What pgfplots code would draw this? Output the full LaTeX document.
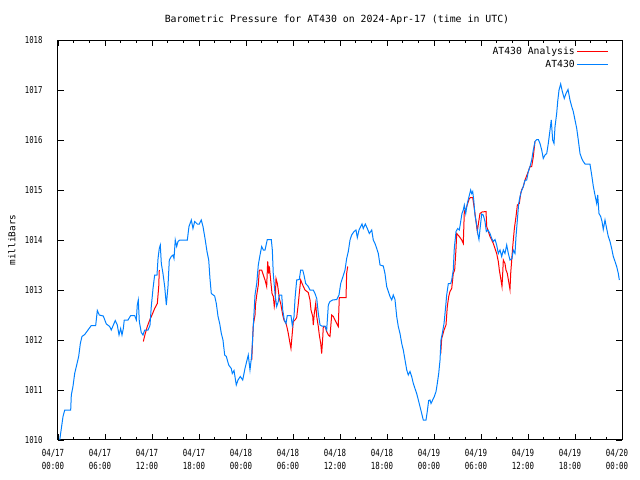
\documentclass[border=0pt]{standalone}
\usepackage{pgfplots}
\pgfplotsset{compat=1.18}
\usepackage{fontspec}
\setmainfont{DejaVu Sans Mono}
\newfontfamily\tickfont{DejaVu Sans Mono}[FakeStretch=0.76]
\definecolor{obsblue}{RGB}{0,128,255}
\definecolor{anared}{RGB}{255,0,0}
\begin{document}
\begin{tikzpicture}
\path[use as bounding box] (-58bp,-40bp) rectangle (582bp,440bp);
\begin{axis}[
  scale only axis,
  width=564bp, height=400bp,
  xmin=0, xmax=72, ymin=1010, ymax=1018,
  xtick={0,6,...,72},
  xticklabels={{04/17\\00:00},{04/17\\06:00},{04/17\\12:00},{04/17\\18:00},{04/18\\00:00},{04/18\\06:00},{04/18\\12:00},{04/18\\18:00},{04/19\\00:00},{04/19\\06:00},{04/19\\12:00},{04/19\\18:00},{04/20\\00:00}},
  minor x tick num=2,
  ytick={1010,1011,...,1018},
  yticklabels={1010,1011,1012,1013,1014,1015,1016,1017,1018},
  tick align=inside,
  major tick length=6bp, minor tick length=3bp,
  axis line style={line width=1bp},
  every tick/.style={black, line width=0.8bp},
  x tick label style={align=center, font=\tickfont\fontsize{9.8}{12.3}\selectfont, yshift=-6bp, xshift=-5bp},
  y tick label style={font=\tickfont\fontsize{9.6}{11}\selectfont, xshift=-12bp},
  title={Barometric Pressure for AT430 on 2024-Apr-17 (time in UTC)},
  title style={at={(axis description cs:0.5,1)}, anchor=center, yshift=14bp, xshift=-3bp, font=\fontsize{9.9}{11}\selectfont},
  ylabel={milliBars},
  ylabel style={at={(axis description cs:-0.0816,0.5)}, anchor=center, font=\fontsize{9.4}{11}\selectfont},
  legend style={draw=none, fill=none, at={(axis description cs:0.9823,0.993)}, anchor=north east, font=\fontsize{9.8}{11}\selectfont, row sep=0.5bp},
  legend cell align=right,
  legend plot pos=right,
  legend image code/.code={\draw[#1] (0bp,0bp) -- (31bp,0bp);},
  unbounded coords=jump,
]
\addplot[anared, line width=1bp] table {
x y
10.89 1011.97
11.14 1012.13
11.40 1012.27
11.71 1012.40
12.00 1012.50
12.34 1012.63
12.68 1012.73
12.86 1013.07
12.93 1013.40
18.00 nan
24.73 1011.60
24.93 1012.30
25.15 1012.50
25.21 1012.70
25.37 1012.90
25.57 1013.10
25.70 1013.40
26.00 1013.40
26.21 1013.30
26.43 1013.20
26.64 1013.07
26.77 1013.57
26.90 1013.33
26.98 1013.47
27.15 1013.20
27.32 1012.93
27.49 1012.87
27.61 1012.67
27.74 1012.80
27.83 1013.23
28.00 1013.13
28.12 1013.00
28.25 1012.83
28.43 1012.73
28.69 1012.50
28.85 1012.40
29.11 1012.33
29.27 1012.23
29.40 1012.13
29.62 1011.93
29.74 1011.83
29.87 1012.07
30.04 1012.37
30.26 1012.40
30.47 1012.45
30.68 1012.73
30.80 1012.93
30.98 1013.20
31.24 1013.10
31.53 1013.00
31.95 1012.95
32.17 1012.80
32.30 1012.60
32.52 1012.47
32.59 1012.30
32.72 1012.53
32.90 1012.73
33.03 1012.47
33.23 1012.27
33.36 1012.10
33.54 1011.93
33.66 1011.73
33.79 1012.03
33.87 1012.27
34.09 1012.27
34.30 1012.17
34.51 1012.10
34.72 1012.07
34.94 1012.50
35.15 1012.47
35.36 1012.40
35.58 1012.33
35.78 1012.27
35.91 1012.85
36.77 1012.85
36.85 1013.33
36.98 1013.47
42.00 nan
48.86 1011.73
48.98 1012.03
49.11 1012.10
49.28 1012.20
49.53 1012.30
49.70 1012.67
49.88 1012.87
50.04 1012.97
50.26 1013.03
50.46 1013.33
50.64 1013.40
50.81 1013.83
50.90 1014.13
51.23 1014.07
51.54 1014.00
51.74 1013.93
51.87 1014.57
52.09 1014.63
52.30 1014.73
52.51 1014.83
52.68 1014.85
52.94 1014.85
53.11 1014.67
53.23 1014.53
53.53 1014.17
53.71 1014.37
53.87 1014.53
54.13 1014.56
54.64 1014.57
54.73 1014.27
54.93 1014.17
55.15 1014.07
55.37 1014.00
55.57 1013.93
55.79 1013.83
56.00 1013.73
56.21 1013.57
56.34 1013.40
56.52 1013.23
56.68 1013.07
56.77 1013.33
56.85 1013.60
57.06 1013.53
57.19 1013.40
57.36 1013.33
57.53 1013.17
57.70 1013.01
57.79 1013.33
57.92 1013.60
58.05 1013.87
58.26 1014.23
58.47 1014.47
58.64 1014.70
58.89 1014.73
59.07 1014.93
59.19 1015.00
59.40 1015.07
59.62 1015.20
60.04 1015.37
60.26 1015.47
60.47 1015.47
60.68 1015.67
60.89 1015.97
};
\addlegendentry{AT430 Analysis}
\addplot[obsblue, line width=1bp] table {
x y
0.22 1010.00
0.64 1010.47
0.86 1010.60
1.62 1010.60
1.70 1010.90
1.91 1011.07
2.13 1011.33
2.34 1011.47
2.64 1011.67
2.85 1011.93
3.06 1012.07
3.41 1012.11
3.83 1012.20
4.25 1012.29
4.81 1012.29
5.02 1012.59
5.27 1012.50
5.78 1012.48
6.17 1012.32
6.60 1012.27
6.80 1012.20
7.31 1012.39
7.57 1012.30
7.79 1012.10
8.00 1012.23
8.17 1012.10
8.34 1012.23
8.46 1012.40
8.94 1012.40
9.28 1012.49
9.79 1012.49
10.00 1012.40
10.12 1012.70
10.25 1012.80
10.38 1012.37
10.63 1012.15
10.85 1012.10
11.07 1012.20
11.49 1012.20
11.74 1012.29
11.91 1012.67
12.13 1013.03
12.34 1013.30
12.64 1013.30
12.77 1013.63
12.93 1013.83
13.06 1013.90
13.19 1013.53
13.40 1013.33
13.62 1013.07
13.83 1012.70
14.04 1013.07
14.21 1013.60
14.46 1013.67
14.68 1013.70
14.81 1013.63
14.97 1014.00
15.15 1013.87
15.32 1013.97
15.54 1014.00
16.51 1014.00
16.72 1014.27
17.02 1014.40
17.23 1014.23
17.45 1014.37
17.78 1014.32
18.04 1014.32
18.29 1014.40
18.51 1014.27
18.80 1014.00
19.02 1013.77
19.24 1013.60
19.40 1013.23
19.57 1012.93
20.00 1012.88
20.21 1012.73
20.43 1012.47
20.64 1012.33
20.85 1012.13
21.06 1012.00
21.28 1011.70
21.49 1011.67
21.79 1011.50
22.12 1011.43
22.25 1011.33
22.47 1011.39
22.76 1011.10
22.98 1011.20
23.27 1011.27
23.58 1011.20
23.87 1011.43
24.29 1011.70
24.51 1011.40
24.73 1011.70
24.93 1012.27
25.15 1012.90
25.37 1013.13
25.57 1013.50
25.79 1013.70
26.00 1013.87
26.21 1013.80
26.43 1013.80
26.72 1014.01
27.23 1014.01
27.36 1013.80
27.48 1013.33
27.70 1012.93
27.92 1012.67
28.12 1012.77
28.25 1012.90
28.56 1012.90
28.69 1012.60
28.89 1012.40
29.11 1012.33
29.27 1012.49
29.74 1012.49
29.91 1012.29
30.13 1012.47
30.26 1012.83
30.47 1013.20
30.80 1013.21
30.98 1013.40
31.24 1013.40
31.40 1013.30
31.62 1013.13
31.95 1013.07
32.17 1013.00
32.59 1013.00
32.81 1012.93
33.03 1012.83
33.23 1012.53
33.45 1012.30
33.66 1012.28
34.09 1012.28
34.30 1012.20
34.51 1012.70
34.72 1012.77
35.07 1012.80
35.58 1012.81
35.87 1012.90
36.09 1013.13
36.34 1013.25
36.64 1013.40
36.85 1013.63
37.06 1013.77
37.28 1014.00
37.49 1014.10
37.79 1014.17
38.04 1014.20
38.21 1014.05
38.43 1014.20
38.64 1014.27
38.81 1014.32
38.97 1014.23
39.23 1014.32
39.49 1014.23
39.74 1014.13
40.05 1014.20
40.25 1014.00
40.47 1013.93
40.69 1013.83
40.89 1013.73
41.11 1013.50
41.53 1013.48
41.74 1013.33
41.96 1013.07
42.17 1012.97
42.38 1012.87
42.60 1012.80
42.80 1012.90
43.02 1012.81
43.24 1012.47
43.44 1012.27
43.66 1012.13
43.88 1011.93
44.08 1011.80
44.30 1011.60
44.52 1011.40
44.72 1011.30
44.94 1011.37
45.15 1011.27
45.36 1011.13
45.57 1011.03
45.79 1010.93
46.00 1010.80
46.21 1010.67
46.43 1010.53
46.63 1010.40
46.98 1010.40
47.14 1010.57
47.32 1010.79
47.49 1010.80
47.62 1010.73
47.83 1010.80
48.04 1010.87
48.26 1010.97
48.42 1011.13
48.60 1011.33
48.77 1011.60
48.89 1012.00
49.06 1012.13
49.28 1012.33
49.49 1012.67
49.62 1012.90
49.83 1013.13
50.13 1013.13
50.26 1013.20
50.46 1013.40
50.59 1013.83
50.81 1014.17
51.03 1014.23
51.23 1014.20
51.41 1014.37
51.57 1014.53
51.74 1014.60
51.87 1014.70
52.05 1014.53
52.25 1014.73
52.47 1014.87
52.68 1015.00
52.81 1014.93
52.94 1014.97
53.07 1014.80
53.23 1014.50
53.45 1014.30
53.62 1014.10
53.74 1014.01
53.91 1014.27
54.09 1014.52
54.29 1014.50
54.51 1014.37
54.68 1014.17
54.89 1014.20
55.15 1014.13
55.37 1014.03
55.57 1013.97
55.79 1014.01
56.00 1013.90
56.21 1013.73
56.43 1013.80
56.64 1013.67
56.85 1013.80
57.06 1013.73
57.28 1013.90
57.49 1013.73
57.70 1013.60
57.96 1013.63
58.12 1013.80
58.34 1013.73
58.47 1014.07
58.64 1014.40
58.81 1014.73
58.98 1014.87
59.14 1014.97
59.40 1015.07
59.62 1015.20
59.83 1015.20
60.04 1015.37
60.26 1015.47
60.47 1015.60
60.68 1015.80
60.89 1015.97
61.11 1016.01
61.32 1016.01
61.53 1015.93
61.75 1015.80
61.95 1015.63
62.17 1015.70
62.39 1015.73
62.59 1015.93
62.81 1016.20
62.97 1016.40
63.15 1016.00
63.32 1015.93
63.45 1016.27
63.66 1016.53
63.79 1016.77
63.96 1017.00
64.17 1017.12
64.38 1016.97
64.63 1016.83
64.85 1016.93
65.11 1017.01
65.36 1016.80
65.58 1016.67
65.78 1016.57
66.00 1016.40
66.22 1016.23
66.42 1016.00
66.64 1015.73
66.86 1015.63
67.06 1015.57
67.28 1015.52
67.91 1015.52
68.13 1015.30
68.34 1015.07
68.55 1014.90
68.77 1014.73
68.90 1014.90
69.06 1014.53
69.28 1014.47
69.45 1014.37
69.61 1014.21
69.83 1014.40
70.04 1014.23
70.25 1014.07
70.47 1013.97
70.68 1013.83
70.89 1013.67
71.11 1013.57
71.32 1013.47
71.53 1013.33
71.66 1013.20
};
\addlegendentry{AT430}
\end{axis}
\end{tikzpicture}
\end{document}
